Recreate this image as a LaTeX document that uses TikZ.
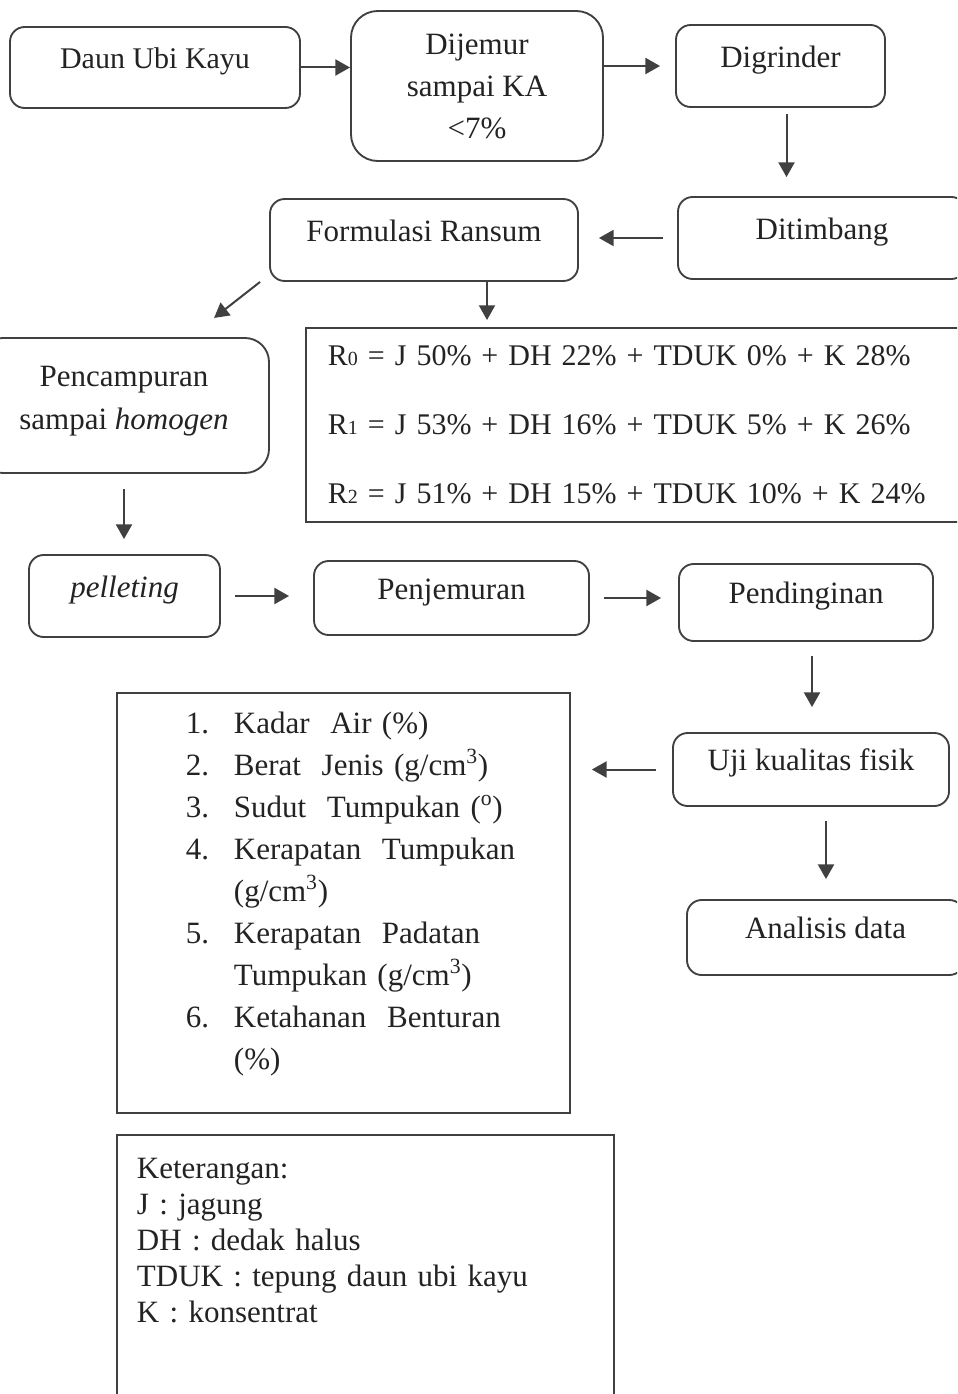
\documentclass[tikz,border=0pt]{standalone}
\usepackage{fontspec}
\setmainfont{Liberation Serif}
\usepackage{tikz}
\usetikzlibrary{
  arrows.meta,
  positioning,
  calc
}
\definecolor{linegray}{RGB}{64,64,64}
\definecolor{textgray}{RGB}{35,35,35}
\renewcommand{\arraystretch}{1.1667}
\newcommand{\rsub}[1]{{\fontsize{15}{15}\selectfont #1}}
\newcommand{\gcm}{(g/cm\textsuperscript{3})}
\tikzset{
  box/.style={draw=linegray, line width=1.4pt, rounded corners=11pt, text=textgray},
  onebox/.style={box, text height=0.7em, text depth=0.5em},
  sqbox/.style={draw=linegray, line width=1.4pt, text=textgray},
  arr/.style={-{Triangle[length=11pt,width=12pt]}, draw=linegray, line width=1.5pt}
}

\begin{document}
\begin{tikzpicture}[x=0.75pt,y=-0.75pt,font=\fontsize{23.25}{27}\selectfont]
  \path[use as bounding box,clip] (0,0) rectangle (957,1394);
  \node[onebox,minimum width=217.5pt,minimum height=60.75pt,font=\fontsize{22.5}{27}\selectfont] (daun) at (155,67.5) {Daun Ubi Kayu};
  \node[box,rounded corners=20pt,align=center,font=\fontsize{23.25}{31.5}\selectfont,
        minimum width=189pt,minimum height=112.5pt] (jemur) at (477,86) {Dijemur\\sampai KA\\<7\%};
  \node[onebox,minimum width=156.75pt,minimum height=61.5pt] (grind) at (780.5,66) {Digrinder};
  \node[onebox,minimum width=216pt,minimum height=61.5pt] (timbang) at (822,238) {Ditimbang};
  \node[onebox,minimum width=231pt,minimum height=61.5pt] (formula) at (424,240) {Formulasi Ransum};
  \node[sqbox,anchor=north west,text width=492pt,inner xsep=16.5pt,minimum height=145.5pt,
        align=left,font=\fontsize{22.5}{51.75}\selectfont] (rumus) at (305,327)
       {R\rsub{0} = J 50\% + DH 22\% + TDUK 0\% + K 28\%\\
        R\rsub{1} = J 53\% + DH 16\% + TDUK 5\% + K 26\%\\
        R\rsub{2} = J 51\% + DH 15\% + TDUK 10\% + K 24\%};
  \node[box,rounded corners=18pt,align=center,font=\fontsize{23.25}{32.25}\selectfont,
        minimum width=217.5pt,minimum height=101.25pt] (campur) at (124,405.5)
       {Pencampuran\\sampai \textit{homogen}\rule[-12pt]{0pt}{12pt}};
  \node[onebox,minimum width=143.25pt,minimum height=61.5pt] (pellet) at (124.5,596) {\textit{pelleting}};
  \node[onebox,minimum width=206.25pt,minimum height=55.5pt] (jemuran) at (451.5,598) {Penjemuran};
  \node[onebox,minimum width=190.5pt,minimum height=57.75pt] (dingin) at (806,602.5) {Pendinginan};
  \node[onebox,minimum width=207pt,minimum height=54.75pt] (uji) at (811,769.5) {Uji kualitas fisik};
  \node[onebox,minimum width=207.75pt,minimum height=56.25pt] (analisis) at (825.5,937.5) {Analisis data};
  \node[sqbox,anchor=north west,text width=339.75pt,inner xsep=0pt,inner ysep=8.7pt,align=left]
       (param) at (116,692)
       {\begin{tabular}{@{\hspace{51.75pt}}p{36pt}@{}l@{}}
        1. & Kadar\ \ Air (\%)\\
        2. & Berat\ \ Jenis \gcm\\
        3. & Sudut\ \ Tumpukan (\textsuperscript{o})\\
        4. & Kerapatan\ \ Tumpukan\\
           & \gcm\\
        5. & Kerapatan\ \ Padatan\\
           & Tumpukan \gcm\\
        6. & Ketahanan\ \ Benturan\\
           & (\%)\\[14pt]
        \end{tabular}};
  \node[sqbox,anchor=north west,text width=342.75pt,inner xsep=15pt,inner ysep=17.25pt,
        text depth=150pt,align=left] (ket) at (116,1134)
       {Keterangan:\\J : jagung\\DH : dedak halus\\TDUK : tepung daun ubi kayu\\K : konsentrat};

  \draw[arr] (daun.east) -- (daun.east -| jemur.west);
  \draw[arr,shorten >=11.25pt] (jemur.east |- grind.west) -- (grind.west);
  \draw[arr,shorten <=4.5pt,shorten >=14.25pt] ([xshift=4.5pt]grind.south) -- ([xshift=4.5pt]grind.south |- timbang.north);
  \draw[arr,shorten <=10.5pt,shorten >=15pt] (timbang.west) -- (timbang.west -| formula.east);
  \draw[arr] ([xshift=-6.75pt]formula.south west) -- ++(-46,36);
  \draw[arr,shorten >=5.25pt] (formula.south -| 487,0) -- (rumus.north -| 487,0);
  \draw[arr,shorten <=11.25pt,shorten >=11.25pt] (campur.south) -- (campur.south |- pellet.north);
  \draw[arr,shorten <=10.5pt,shorten >=18pt] (pellet.east) -- (pellet.east -| jemuran.west);
  \draw[arr,shorten <=10.5pt,shorten >=12.75pt] (jemuran.east) -- (jemuran.east -| dingin.west);
  \draw[arr,shorten <=10.5pt,shorten >=18.75pt] ([xshift=4.5pt]dingin.south) -- ([xshift=4.5pt]dingin.south |- uji.north);
  \draw[arr,shorten <=12pt,shorten >=15.75pt] (uji.west) -- (uji.west -| param.east);
  \draw[arr,shorten <=10.5pt,shorten >=15pt] ([xshift=11.25pt]uji.south) -- ([xshift=11.25pt]uji.south |- analisis.north);
\end{tikzpicture}
\end{document}
